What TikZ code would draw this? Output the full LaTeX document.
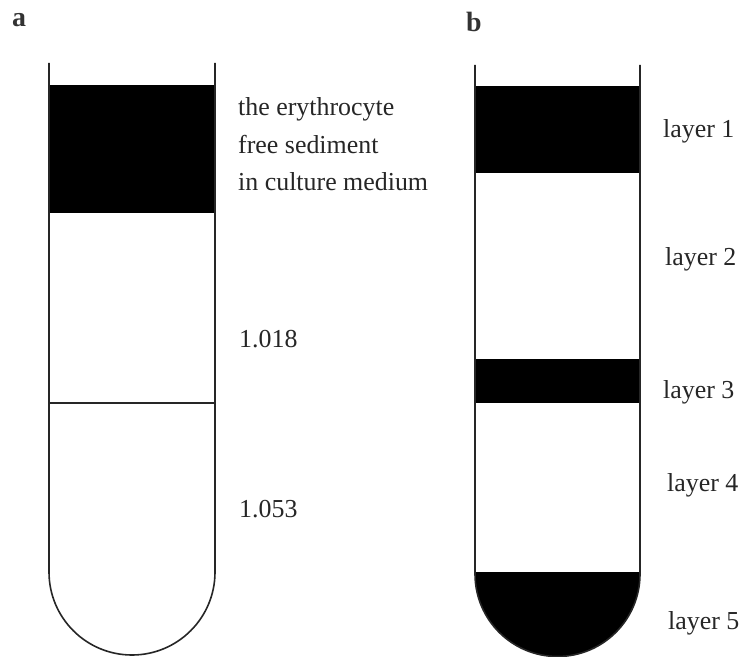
\documentclass[tikz,border=0pt]{standalone}
\usepackage{fontspec}
\setmainfont{Liberation Serif}
\begin{document}
\begin{tikzpicture}[x=1bp,y=-1bp,
  tube/.style={line width=1.6bp, draw=black!85},
  band/.style={fill=black},
  lbl/.style={anchor=base west, inner sep=0, font=\fontsize{26}{30}\selectfont, text=black!85},
  panel/.style={anchor=base west, inner sep=0, font=\fontsize{28}{30}\selectfont\bfseries, text=black!80}]
\useasboundingbox (0,0) rectangle (744,657);
% panel labels
\node[panel] (pa) at (12,27) {a};
\node[panel] (pb) at (466,32) {b};
% tube a
\fill[band] (49,85) rectangle (215,213);
\draw[tube] (49,403) -- (215,403);
\draw[tube] (49,63) -- (49,572) arc[start angle=180, end angle=0, radius=83] -- (215,63);
\node[lbl] (ta1) at (238,116) {the erythrocyte};
\node[lbl] (ta2) at (238,153) {free sediment};
\node[lbl] (ta3) at (238,190) {in culture medium};
\node[lbl] (ta4) at (239,347) {1.018};
\node[lbl] (ta5) at (239,517) {1.053};
% tube b
\fill[band] (475,86) rectangle (640,173);
\fill[band] (475,359) rectangle (640,403);
\fill[band] (475,572) -- (475,574) arc[start angle=180, end angle=0, radius=82.5] -- (640,572) -- cycle;
\draw[tube] (475,65) -- (475,574) arc[start angle=180, end angle=0, radius=82.5] -- (640,65);
\node[lbl] (l1) at (663,138) {layer 1};
\node[lbl] (l2) at (665,265) {layer 2};
\node[lbl] (l3) at (663,398) {layer 3};
\node[lbl] (l4) at (667,491) {layer 4};
\node[lbl] (l5) at (668,629) {layer 5};
\end{tikzpicture}
\end{document}
